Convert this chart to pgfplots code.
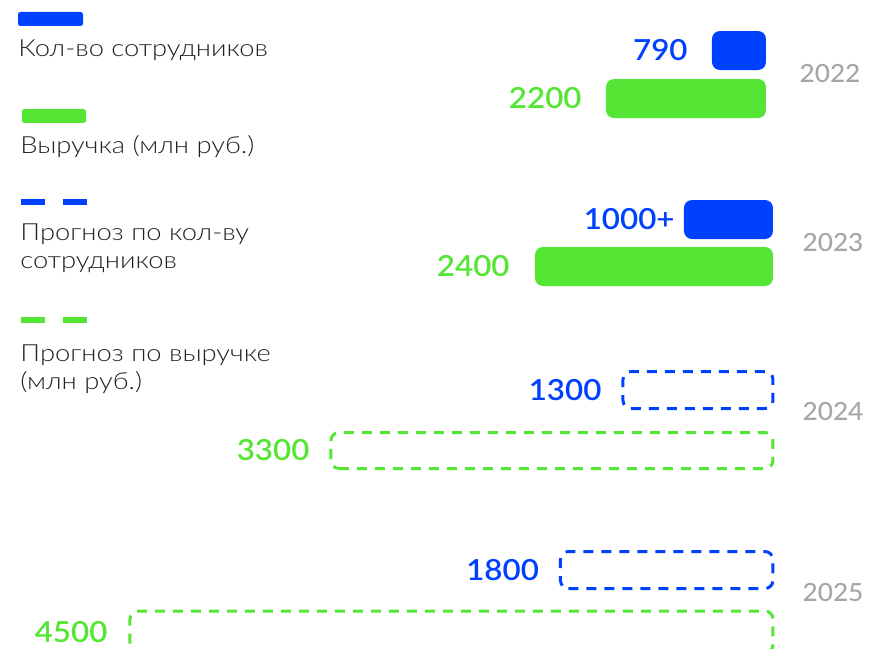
\documentclass[border=0pt]{standalone}
\usepackage{pgfplots}
\pgfplotsset{compat=1.18}
\usepackage{pgfplotstable}
\usepackage{fontspec}
\setmainfont{Lato}
\newfontfamily\legfont{Lato Light}[FakeStretch=1.16]
\newfontfamily\valfont{Lato Semibold}[FakeStretch=1.08]
\newfontfamily\yearfont{Lato Medium}[FakeStretch=1.05]
\definecolor{cblue}{HTML}{0041FF}
\definecolor{cgreen}{HTML}{55E635}
\definecolor{cgray}{HTML}{A6A6A6}
\definecolor{ctext}{HTML}{222222}

% len = drawn bar length (px), y = bar centre (px from top), lab = value shown
\pgfplotstableread{
len y lab
54 50.5 790
}\blueA
\pgfplotstableread{
len y lab
160 98.5 2200
}\greenA
\pgfplotstableread{
len y lab
89 219.5 1000+
}\blueB
\pgfplotstableread{
len y lab
238 266.5 2400
}\greenB
\pgfplotstableread{
len y lab
150 390 1300
212.5 570 1800
}\blueF
\pgfplotstableread{
len y lab
442 450.5 3300
}\greenF
\pgfplotstableread{
len y lab
643 632 4500
}\greenG

\begin{document}
\begin{tikzpicture}
\begin{axis}[
  scale only axis, width=434.5pt, height=324.5pt,
  x dir=reverse, xmin=-96, xmax=773,
  y dir=reverse, ymin=0, ymax=649,
  hide axis, clip=true,
  point meta=explicit symbolic,
  nodes near coords,
  nodes near coords style={font=\valfont\fontsize{14.5}{16}\selectfont, anchor=east, inner sep=0pt},
]
\addplot[xbar, bar shift=0pt, bar width=39, fill=cblue, draw=none, rounded corners=4pt, xshift=-3.5pt,
  nodes near coords style={text=cblue, xshift=-12pt}] table[x=len,y=y,meta=lab]{\blueA};
\addplot[xbar, bar shift=0pt, bar width=39, fill=cgreen, draw=none, rounded corners=4pt, xshift=-3.5pt,
  nodes near coords style={text=cgreen, xshift=-12pt}] table[x=len,y=y,meta=lab]{\greenA};
\addplot[xbar, bar shift=0pt, bar width=39, fill=cblue, draw=none, rounded corners=4pt,
  nodes near coords style={text=cblue, xshift=-4.5pt}] table[x=len,y=y,meta=lab]{\blueB};
\addplot[xbar, bar shift=0pt, bar width=39, fill=cgreen, draw=none, rounded corners=4pt,
  nodes near coords style={text=cgreen, xshift=-12.5pt}] table[x=len,y=y,meta=lab]{\greenB};
\addplot[xbar, bar shift=0pt, bar width=37, fill=none, draw=cblue, line width=1.5pt, dash pattern=on 5pt off 4pt, rounded corners=4pt,
  nodes near coords style={text=cblue, xshift=-10pt}] table[x=len,y=y,meta=lab]{\blueF};
\addplot[xbar, bar shift=0pt, bar width=36, fill=none, draw=cgreen, line width=1.5pt, dash pattern=on 5pt off 4pt, rounded corners=4pt,
  nodes near coords style={text=cgreen, xshift=-10pt}] table[x=len,y=y,meta=lab]{\greenF};
\addplot[xbar, bar shift=0pt, bar width=42, fill=none, draw=cgreen, line width=1.5pt, dash pattern=on 5pt off 4pt, rounded corners=4pt,
  nodes near coords style={text=cgreen, xshift=-10.5pt}] table[x=len,y=y,meta=lab]{\greenG};
\end{axis}
\begin{scope}[shift={(current axis.north west)}, x=0.5pt, y=-0.5pt]
  % legend swatches
  \fill[cblue, rounded corners=1.2pt] (18,12) rectangle (83,26);
  \fill[cgreen, rounded corners=1.2pt] (22,109) rectangle (86,123);
  \fill[cblue] (21,199) rectangle (45,205);
  \fill[cblue] (63,199) rectangle (87,205);
  \fill[cgreen] (21,317) rectangle (45,323);
  \fill[cgreen] (63,317) rectangle (87,323);
  % legend text
  \begin{scope}[every node/.style={anchor=base west, inner sep=0pt, text=ctext, font=\legfont\fontsize{11.8}{14}\selectfont}]
    \node at (18,57) {Кол-во сотрудников};
    \node at (20,154) {Выручка (млн руб.)};
    \node at (20,241) {Прогноз по кол-ву};
    \node at (20,269) {сотрудников};
    \node at (20,362) {Прогноз по выручке};
    \node at (20,390) {(млн руб.)};
  \end{scope}
  % years
  \begin{scope}[every node/.style={anchor=center, inner sep=0pt, text=cgray, font=\yearfont\fontsize{12.5}{14}\selectfont}]
    \node at (830,74) {2022};
    \node at (833,243) {2023};
    \node at (833,412) {2024};
    \node at (833,593) {2025};
  \end{scope}
\end{scope}
\pgfresetboundingbox
\useasboundingbox (current axis.south west) rectangle (current axis.north east);
\end{tikzpicture}
\end{document}
